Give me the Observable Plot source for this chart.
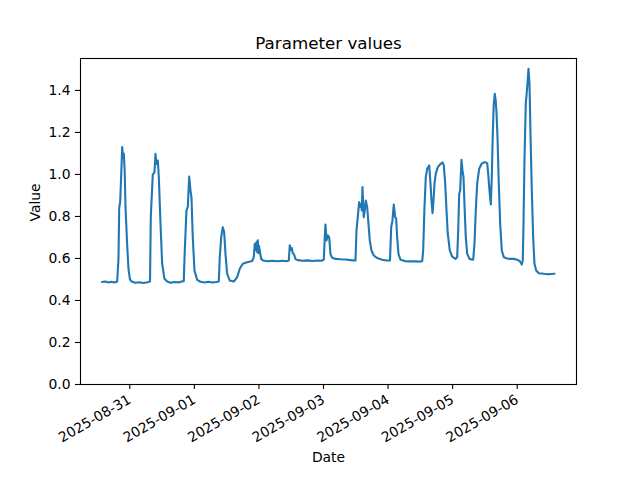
<!DOCTYPE html>
<html><head><meta charset="utf-8">
<script src="https://cdn.jsdelivr.net/npm/d3@7"></script>
<script src="https://cdn.jsdelivr.net/npm/@observablehq/plot@0.6"></script>
<style>body{margin:0;background:#fff}</style>
</head><body><div id="chart"></div>
<script>
const title = "Parameter values";
const xLabel = "Date";
const yLabel = "Value";
const xTicks = ["2025-08-31","2025-09-01","2025-09-02","2025-09-03","2025-09-04","2025-09-05","2025-09-06"];
const yTicks = [0, 0.2, 0.4, 0.6, 0.8, 1.0, 1.2, 1.4];
const times = [
"2025-08-30T13:40","2025-08-30T14:58","2025-08-30T16:05","2025-08-30T17:12","2025-08-30T18:19","2025-08-30T19:19","2025-08-30T19:48","2025-08-30T20:04","2025-08-30T20:26","2025-08-30T20:44",
"2025-08-30T21:11","2025-08-30T21:28","2025-08-30T21:46","2025-08-30T22:06","2025-08-30T22:24","2025-08-30T22:58","2025-08-30T23:31","2025-08-31T00:04","2025-08-31T00:49","2025-08-31T02:07",
"2025-08-31T03:36","2025-08-31T05:05","2025-08-31T06:35","2025-08-31T07:31","2025-08-31T07:49","2025-08-31T08:33","2025-08-31T09:11","2025-08-31T09:33","2025-08-31T09:55","2025-08-31T10:25",
"2025-08-31T10:47","2025-08-31T11:25","2025-08-31T12:02","2025-08-31T12:54","2025-08-31T13:54","2025-08-31T15:08","2025-08-31T16:37","2025-08-31T18:06","2025-08-31T19:13","2025-08-31T20:04",
"2025-08-31T20:26","2025-08-31T21:04","2025-08-31T21:34","2025-08-31T22:05","2025-08-31T22:34","2025-08-31T22:56","2025-08-31T23:25","2025-09-01T00:03","2025-09-01T01:03","2025-09-01T02:17",
"2025-09-01T03:46","2025-09-01T05:15","2025-09-01T06:44","2025-09-01T08:13","2025-09-01T09:05","2025-09-01T09:27","2025-09-01T09:58","2025-09-01T10:34","2025-09-01T11:05","2025-09-01T11:34",
"2025-09-01T12:12","2025-09-01T13:10","2025-09-01T14:39","2025-09-01T15:55","2025-09-01T16:53","2025-09-01T18:00","2025-09-01T19:38","2025-09-01T21:29","2025-09-01T22:05","2025-09-01T22:28",
"2025-09-01T22:50","2025-09-01T23:05","2025-09-01T23:21","2025-09-01T23:35","2025-09-01T23:50","2025-09-02T00:01","2025-09-02T00:19","2025-09-02T00:50","2025-09-02T01:35","2025-09-02T03:11",
"2025-09-02T05:02","2025-09-02T06:54","2025-09-02T08:46","2025-09-02T10:14","2025-09-02T11:06","2025-09-02T11:28","2025-09-02T11:55","2025-09-02T12:13","2025-09-02T12:35","2025-09-02T13:02",
"2025-09-02T13:35","2025-09-02T14:26","2025-09-02T16:11","2025-09-02T18:03","2025-09-02T19:55","2025-09-02T21:46","2025-09-02T23:15","2025-09-03T00:07","2025-09-03T00:29","2025-09-03T00:44",
"2025-09-03T01:07","2025-09-03T01:35","2025-09-03T02:07","2025-09-03T02:36","2025-09-03T03:14","2025-09-03T04:27","2025-09-03T06:19","2025-09-03T08:10","2025-09-03T10:02","2025-09-03T11:53",
"2025-09-03T12:16","2025-09-03T12:44","2025-09-03T13:16","2025-09-03T13:38","2025-09-03T14:01","2025-09-03T14:14","2025-09-03T14:29","2025-09-03T14:45","2025-09-03T14:58","2025-09-03T15:20",
"2025-09-03T15:43","2025-09-03T16:14","2025-09-03T16:43","2025-09-03T17:12","2025-09-03T17:50","2025-09-03T18:41","2025-09-03T19:57","2025-09-03T21:49","2025-09-03T23:25","2025-09-04T00:43",
"2025-09-04T01:10","2025-09-04T01:38","2025-09-04T02:07","2025-09-04T02:38","2025-09-04T03:01","2025-09-04T03:23","2025-09-04T03:52","2025-09-04T04:37","2025-09-04T06:28","2025-09-04T08:20",
"2025-09-04T10:11","2025-09-04T11:41","2025-09-04T12:41","2025-09-04T13:03","2025-09-04T13:32","2025-09-04T14:01","2025-09-04T14:32","2025-09-04T15:17","2025-09-04T15:46","2025-09-04T16:08",
"2025-09-04T16:31","2025-09-04T16:53","2025-09-04T17:15","2025-09-04T17:44","2025-09-04T18:29","2025-09-04T19:29","2025-09-04T20:13","2025-09-04T20:43","2025-09-04T21:14","2025-09-04T21:43",
"2025-09-04T22:11","2025-09-04T22:56","2025-09-04T23:50","2025-09-05T01:04","2025-09-05T01:41","2025-09-05T02:04","2025-09-05T02:26","2025-09-05T02:48","2025-09-05T03:17","2025-09-05T03:40",
"2025-09-05T04:02","2025-09-05T04:24","2025-09-05T04:53","2025-09-05T05:25","2025-09-05T06:16","2025-09-05T07:38","2025-09-05T08:07","2025-09-05T08:36","2025-09-05T09:07","2025-09-05T09:52",
"2025-09-05T10:43","2025-09-05T11:50","2025-09-05T12:50","2025-09-05T13:13","2025-09-05T13:41","2025-09-05T14:11","2025-09-05T14:33","2025-09-05T14:55","2025-09-05T15:17","2025-09-05T15:40",
"2025-09-05T16:00","2025-09-05T16:18","2025-09-05T16:40","2025-09-05T17:09","2025-09-05T17:40","2025-09-05T18:16","2025-09-05T19:01","2025-09-05T20:16","2025-09-05T21:30","2025-09-05T22:44",
"2025-09-05T23:59","2025-09-06T00:58","2025-09-06T01:42","2025-09-06T02:04","2025-09-06T02:20","2025-09-06T02:42","2025-09-06T03:11","2025-09-06T03:43","2025-09-06T04:11","2025-09-06T04:34",
"2025-09-06T04:56","2025-09-06T05:25","2025-09-06T05:56","2025-09-06T06:25","2025-09-06T07:03","2025-09-06T08:01","2025-09-06T09:53","2025-09-06T11:37","2025-09-06T13:51"
];
const values = [
0.488,0.490,0.486,0.489,0.486,0.490,0.60,0.84,0.87,0.97,
1.13,1.08,1.10,1.02,0.85,0.68,0.55,0.50,0.489,0.484,
0.487,0.483,0.487,0.49,0.80,1.00,1.01,1.098,1.05,1.066,
0.99,0.765,0.575,0.503,0.490,0.484,0.488,0.486,0.490,0.492,
0.637,0.829,0.845,0.99,0.924,0.89,0.70,0.543,0.498,0.489,
0.486,0.489,0.486,0.488,0.490,0.606,0.70,0.749,0.725,0.622,
0.527,0.495,0.490,0.511,0.551,0.575,0.582,0.588,0.606,0.670,
0.640,0.678,0.630,0.686,0.625,0.660,0.638,0.598,0.590,0.587,
0.589,0.587,0.589,0.587,0.590,0.663,0.640,0.650,0.625,0.62,
0.597,0.592,0.589,0.591,0.588,0.590,0.589,0.595,0.705,0.762,
0.686,0.71,0.70,0.62,0.603,0.598,0.596,0.595,0.592,0.590,
0.733,0.797,0.868,0.845,0.86,0.829,0.94,0.86,0.797,0.829,
0.876,0.845,0.765,0.686,0.638,0.614,0.602,0.594,0.590,0.591,
0.749,0.781,0.857,0.797,0.79,0.70,0.622,0.594,0.587,0.586,
0.587,0.585,0.587,0.638,0.845,0.987,1.027,1.043,0.956,0.876,
0.816,0.876,0.956,1.003,1.035,1.05,1.057,1.043,0.956,0.829,
0.718,0.638,0.609,0.598,0.606,0.733,0.908,0.924,1.070,1.019,
0.987,0.857,0.70,0.622,0.598,0.594,0.670,0.829,0.956,1.027,
1.05,1.059,1.054,1.003,0.924,0.857,0.987,1.194,1.337,1.384,
1.352,1.297,1.178,0.956,0.765,0.638,0.606,0.600,0.598,0.598,
0.594,0.587,0.571,0.59,0.765,1.067,1.337,1.416,1.503,1.432,
1.194,0.924,0.70,0.575,0.543,0.530,0.527,0.525,0.527
];

const parseT = t => new Date(t + ":00Z");
const data = times.map((t, i) => ({date: parseT(t), value: values[i]}));
const font = "'DejaVu Sans', sans-serif";

const chart = Plot.plot({
  width: 640, height: 480,
  marginLeft: 80, marginRight: 64, marginTop: 58, marginBottom: 96,
  style: {fontFamily: font, fontSize: "13.9px", color: "black", background: "white"},
  x: {type: "utc", domain: [new Date("2025-08-30T05:41:00Z"), new Date("2025-09-06T22:02:00Z")]},
  y: {domain: [0, 1.552]},
  marks: [
    Plot.lineY(data, {x: "date", y: "value", stroke: "#1f77b4", strokeWidth: 2.1}),
    Plot.frame({stroke: "black", strokeWidth: 1.1}),
    Plot.axisY({ticks: yTicks, tickFormat: d3.format(".1f"), tickSize: 5, tickPadding: 5, label: null, strokeWidth: 1.1}),
    Plot.axisX({ticks: xTicks.map(d => new Date(d + "T00:00:00Z")), tickFormat: d3.utcFormat("%Y-%m-%d"), tickSize: 5, tickPadding: 9, tickRotate: -30, label: null, strokeWidth: 1.1}),
    Plot.text([title], {frameAnchor: "top", dy: -10, lineAnchor: "bottom", fontSize: 16.7, fill: "black"}),
    Plot.text([xLabel], {frameAnchor: "bottom", dy: 73, lineAnchor: "middle", fontSize: 13.9, fill: "black"}),
    Plot.text([yLabel], {frameAnchor: "left", dx: -45, rotate: -90, lineAnchor: "middle", fontSize: 13.9, fill: "black"})
  ]
});
document.getElementById("chart").appendChild(chart);
</script>
</body></html>
